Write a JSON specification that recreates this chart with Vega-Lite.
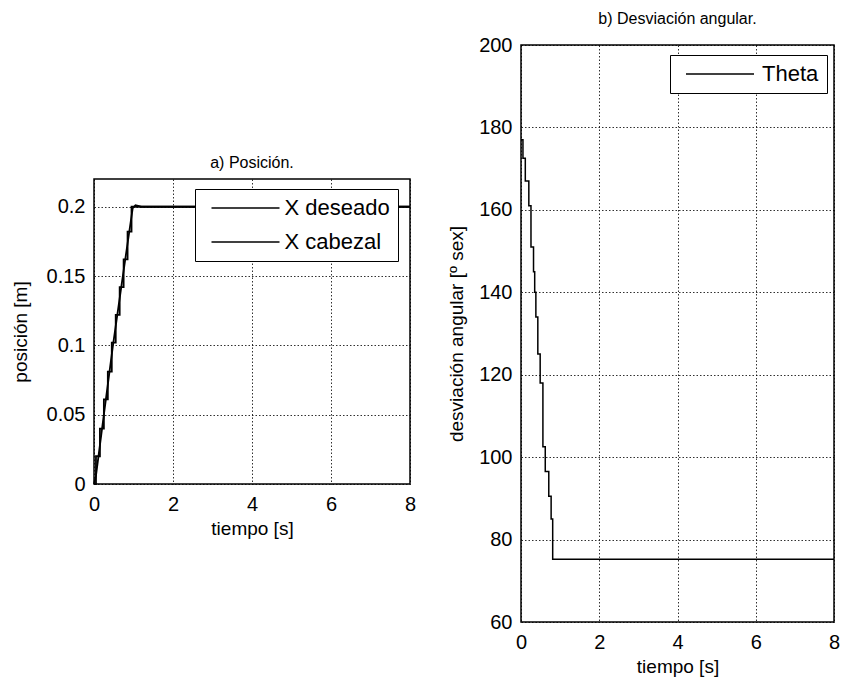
{
  "$schema": "https://vega.github.io/schema/vega-lite/v6.json",
  "background": "white",
  "padding": {"left": 10, "top": 10, "right": 5, "bottom": 5},
  "config": {
    "font": "Liberation Sans",
    "view": {"stroke": "black", "strokeWidth": 1.5},
    "axis": {
      "grid": true, "gridColor": "black", "gridDash": [1.5, 2], "gridWidth": 0.9, "gridOpacity": 0.9,
      "domain": false, "ticks": false,
      "labelFont": "Liberation Sans", "labelFontSize": 20, "labelColor": "black", "labelFlush": false,
      "titleFont": "Liberation Sans", "titleFontSize": 19, "titleFontWeight": "normal", "titleColor": "black"
    },
    "axisX": {"labelPadding": 10, "titlePadding": 5},
    "axisY": {"labelPadding": 9, "titlePadding": 12},
    "title": {"fontSize": 16, "fontWeight": "normal", "color": "black", "font": "Liberation Sans", "offset": 8},
    "legend": {
      "title": null, "orient": "none", "strokeColor": "black", "fillColor": "white", "padding": 8,
      "symbolType": "M-4,0H4", "symbolSize": 289, "symbolStrokeWidth": 1.5, "symbolStrokeColor": "black",
      "labelFont": "Liberation Sans", "labelFontSize": 22, "labelColor": "black", "rowPadding": 12
    }
  },
  "spacing": 29,
  "resolve": {"scale": {"color": "independent"}, "legend": {"color": "independent"}},
  "hconcat": [
    {
      "spacing": 0,
      "resolve": {"scale": {"color": "independent"}, "legend": {"color": "independent"}},
      "vconcat": [
        {
          "width": 316, "height": 109,
          "view": {"stroke": null},
          "data": {"values": [{"a": 0}]},
          "mark": {"type": "point", "opacity": 0},
          "encoding": {}
        },
        {
          "width": 316, "height": 305,
          "title": "a) Posición.",
          "data": {"values": [
            {"t": 0, "pos": 0, "serie": "X cabezal"},
            {"t": 0.05, "pos": 0.006, "serie": "X cabezal"},
            {"t": 0.25, "pos": 0.05, "serie": "X cabezal"},
            {"t": 0.48, "pos": 0.1, "serie": "X cabezal"},
            {"t": 0.73, "pos": 0.15, "serie": "X cabezal"},
            {"t": 0.98, "pos": 0.199, "serie": "X cabezal"},
            {"t": 1.05, "pos": 0.201, "serie": "X cabezal"},
            {"t": 1.2, "pos": 0.2, "serie": "X cabezal"},
            {"t": 8, "pos": 0.2, "serie": "X cabezal"},
            {"t": 0, "pos": 0, "serie": "X deseado"},
            {"t": 0.1, "pos": 0.02, "serie": "X deseado"},
            {"t": 0.2, "pos": 0.04, "serie": "X deseado"},
            {"t": 0.3, "pos": 0.061, "serie": "X deseado"},
            {"t": 0.4, "pos": 0.081, "serie": "X deseado"},
            {"t": 0.5, "pos": 0.102, "serie": "X deseado"},
            {"t": 0.6, "pos": 0.122, "serie": "X deseado"},
            {"t": 0.7, "pos": 0.142, "serie": "X deseado"},
            {"t": 0.8, "pos": 0.162, "serie": "X deseado"},
            {"t": 0.9, "pos": 0.182, "serie": "X deseado"},
            {"t": 1.0, "pos": 0.2, "serie": "X deseado"},
            {"t": 8, "pos": 0.2, "serie": "X deseado"}
          ]},
          "encoding": {
            "x": {"field": "t", "type": "quantitative", "scale": {"domain": [0, 8], "nice": false},
                  "axis": {"values": [0, 2, 4, 6, 8], "title": "tiempo [s]"}},
            "y": {"field": "pos", "type": "quantitative", "scale": {"domain": [0, 0.22], "nice": false},
                  "axis": {"values": [0, 0.05, 0.1, 0.15, 0.2], "labelExpr": "'' + datum.value", "title": "posición [m]", "titlePadding": 16}},
            "color": {"field": "serie", "type": "nominal",
                      "scale": {"domain": ["X deseado", "X cabezal"], "range": ["black", "black"]},
                      "legend": {"legendX": 101, "legendY": 10, "symbolOffset": 31.5, "labelOffset": 28}}
          },
          "layer": [
            {"transform": [{"filter": "datum.serie == 'X cabezal'"}],
             "mark": {"type": "line", "strokeWidth": 1.8}},
            {"transform": [{"filter": "datum.serie == 'X deseado'"}],
             "mark": {"type": "line", "strokeWidth": 1.8, "interpolate": "step"}}
          ]
        }
      ]
    },
    {
      "width": 313, "height": 577,
      "title": "b) Desviación angular.",
      "data": {"values": [
        {"t": 0, "theta": 177, "serie": "Theta"},
        {"t": 0.05, "theta": 172.5, "serie": "Theta"},
        {"t": 0.11, "theta": 167, "serie": "Theta"},
        {"t": 0.2, "theta": 161, "serie": "Theta"},
        {"t": 0.255, "theta": 151, "serie": "Theta"},
        {"t": 0.32, "theta": 145, "serie": "Theta"},
        {"t": 0.35, "theta": 140, "serie": "Theta"},
        {"t": 0.38, "theta": 134, "serie": "Theta"},
        {"t": 0.43, "theta": 125, "serie": "Theta"},
        {"t": 0.49, "theta": 118, "serie": "Theta"},
        {"t": 0.56, "theta": 102.5, "serie": "Theta"},
        {"t": 0.62, "theta": 96.5, "serie": "Theta"},
        {"t": 0.71, "theta": 90.5, "serie": "Theta"},
        {"t": 0.77, "theta": 85, "serie": "Theta"},
        {"t": 0.81, "theta": 75.2, "serie": "Theta"},
        {"t": 8, "theta": 75.2, "serie": "Theta"}
      ]},
      "mark": {"type": "line", "strokeWidth": 1.5, "interpolate": "step-after"},
      "encoding": {
        "x": {"field": "t", "type": "quantitative", "scale": {"domain": [0, 8], "nice": false},
              "axis": {"values": [0, 2, 4, 6, 8], "title": "tiempo [s]"}},
        "y": {"field": "theta", "type": "quantitative", "scale": {"domain": [60, 200], "nice": false},
              "axis": {"values": [60, 80, 100, 120, 140, 160, 180, 200], "title": "desviación angular [º sex]"}},
        "color": {"field": "serie", "type": "nominal",
                  "scale": {"domain": ["Theta"], "range": ["black"]},
                  "legend": {"legendX": 149, "legendY": 10, "symbolOffset": 31, "labelOffset": 31}}
      }
    }
  ]
}
